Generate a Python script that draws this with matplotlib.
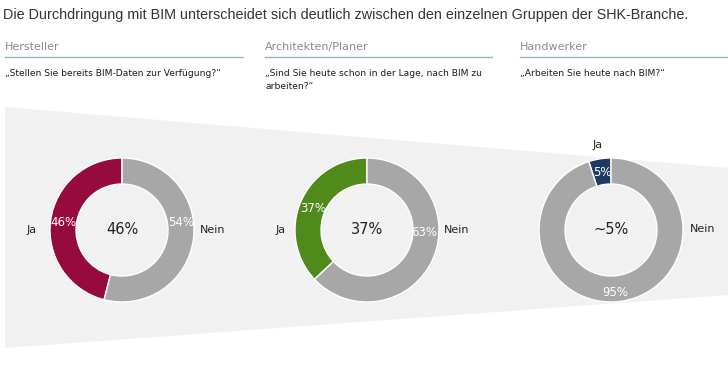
import matplotlib
matplotlib.use("Agg")
import matplotlib.pyplot as plt
from matplotlib.patches import Polygon
from matplotlib import font_manager

# ---- data ----
title = "Die Durchdringung mit BIM unterscheidet sich deutlich zwischen den einzelnen Gruppen der SHK-Branche."
groups = ["Hersteller", "Architekten/Planer", "Handwerker"]
questions = ["\u201eStellen Sie bereits BIM-Daten zur Verf\u00fcgung?\u201c",
             "\u201eSind Sie heute schon in der Lage, nach BIM zu\narbeiten?\u201c",
             "\u201eArbeiten Sie heute nach BIM?\u201c"]
ja_values = [46, 37, 5]
nein_values = [54, 63, 95]
center_labels = ["46%", "37%", "~5%"]
slice_names = ["Ja", "Nein"]
ja_colors = ["#950b3e", "#4f8a1b", "#1d3a63"]
nein_color = "#a7a7a7"

names = {f.name for f in font_manager.fontManager.ttflist}
has_narrow = "Liberation Sans Narrow" in names
narrow = "Liberation Sans Narrow" if has_narrow else "DejaVu Sans"

W, H = 728, 366
fig = plt.figure(figsize=(W / 100, H / 100), dpi=100)
fig.patch.set_facecolor("white")

bg = fig.add_axes([0, 0, 1, 1])
bg.set_xlim(0, W)
bg.set_ylim(H, 0)
bg.axis("off")

# funnel background
bg.add_patch(Polygon([(5, 107), (W, 168), (W, 295), (5, 348)], closed=True,
                     facecolor="#f1f1f1", edgecolor="none", zorder=0))

bg.text(3, 15, title, fontsize=10.35, color="#333333", va="center", ha="left",
        family="Liberation Sans")

col_x = [5, 265, 520]
col_end = [243, 492, 728]
for i in range(3):
    bg.text(col_x[i], 47, groups[i], fontsize=10 if has_narrow else 8,
            color="#8a8a8a", va="center", ha="left", family=narrow)
    bg.plot([col_x[i], col_end[i]], [57, 57], color="#93b8c4", lw=1.0)
    bg.text(col_x[i], 69, questions[i], fontsize=7.4 if has_narrow else 6.6,
            color="#1a1a1a", va="top", ha="left", family=narrow, linespacing=1.55)

centers = [(122, 230), (367, 230), (611, 230)]
R = 72
ring = 26
ja_lbl = [(32, 230), (281, 230), (598, 145)]
nein_lbl = [(213, 230), (457, 230), (703, 229)]
ja_pct_pos = [(63, 223), (313, 208), (602, 172)]
nein_pct_pos = [(181, 223), (424, 232), (615, 292)]

for i in range(3):
    cx, cy = centers[i]
    ax = fig.add_axes([(cx - R) / W, 1 - (cy + R) / H, 2 * R / W, 2 * R / H])
    ax.axis("off")
    ax.pie([ja_values[i], nein_values[i]],
           colors=[ja_colors[i], nein_color],
           startangle=90, counterclock=True, radius=1,
           wedgeprops=dict(width=ring / R, edgecolor="white", linewidth=1))
    ax.set_xlim(-1, 1)
    ax.set_ylim(-1, 1)
    ax.text(0, 0, center_labels[i], ha="center", va="center", fontsize=10.5, color="#222222")
    t1 = ax.text(*ja_pct_pos[i], f"{ja_values[i]}%", ha="center", va="center", fontsize=8.5,
                 color="white", transform=bg.transData, clip_on=False, zorder=5)
    t2 = ax.text(*nein_pct_pos[i], f"{nein_values[i]}%", ha="center", va="center", fontsize=8.5,
                 color="white", transform=bg.transData, clip_on=False, zorder=5)
    bg.text(*ja_lbl[i], slice_names[0], ha="center", va="center", fontsize=8, color="#222222")
    bg.text(*nein_lbl[i], slice_names[1], ha="center", va="center", fontsize=8, color="#222222")

fig.savefig("out.png", dpi=100, facecolor="white")
